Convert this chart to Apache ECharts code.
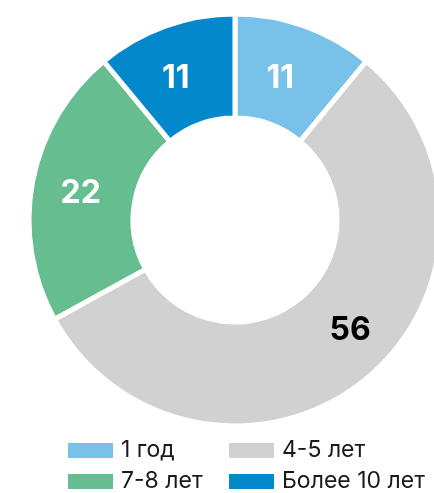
<!DOCTYPE html>
<html><head><meta charset="utf-8">
<script src="https://cdn.jsdelivr.net/npm/echarts@6/dist/echarts.min.js"></script>
<style>html,body{margin:0;padding:0;background:#fff}#c{width:434px;height:493px}</style>
</head><body><div id="c"></div>
<script>
const categories = ['1 год', '4-5 лет', '7-8 лет', 'Более 10 лет'];
const values = [11, 56, 22, 11];
const colors = ['#78C1E8', '#D1D1D1', '#66BD8F', '#0389CB'];
const labelColors = ['#ffffff', '#000000', '#ffffff', '#ffffff'];
const labelShift = [[-8, 6], [15, -11], [0, 3], [-6, 6]];

const chart = echarts.init(document.getElementById('c'), null, {renderer: 'canvas'});
const legendBase = {
  orient: 'vertical', top: 439, padding: 0, itemGap: 8,
  itemWidth: 45, itemHeight: 15, icon: 'rect',
  itemStyle: {borderWidth: 0},
  textStyle: {fontFamily: 'Inter', fontSize: 23, lineHeight: 23, color: '#1a1a1a', padding: [0,0,0,3]}
};
chart.setOption({
  animation: false,
  legend: [
    Object.assign({}, legendBase, {left: 68, data: [categories[0], categories[2]]}),
    Object.assign({}, legendBase, {left: 229, data: [categories[1], categories[3]]})
  ],
  series: [{
    type: 'pie',
    center: [235, 220],
    radius: [102, 206],
    startAngle: 90,
    clockwise: true,
    label: {show: true, position: 'inside', formatter: '{c}', fontFamily: 'Inter', fontWeight: 'bold', fontSize: 32},
    labelLine: {show: false},
    itemStyle: {borderColor: '#ffffff', borderWidth: 5},
    emphasis: {disabled: true},
    data: categories.map((n, i) => ({
      name: n, value: values[i],
      itemStyle: {color: colors[i]},
      label: {color: labelColors[i], offset: labelShift[i]}
    }))
  }]
});
</script></body></html>
